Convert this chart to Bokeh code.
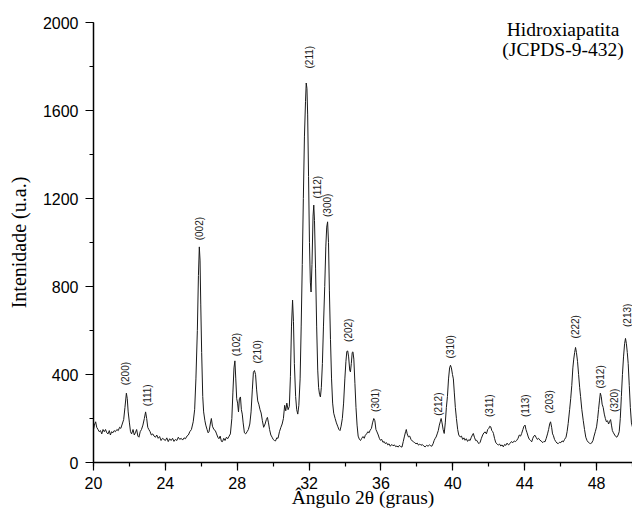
import math
from bokeh.plotting import figure
from bokeh.models import ColumnDataSource, Range1d, FixedTicker, Label, LabelSet
from bokeh.embed import file_html
from bokeh.resources import INLINE
from bokeh.core.properties import value

# --- XRD pattern (2θ in degrees, intensity in a.u.) ---
two_theta = [
    20.00, 20.05, 20.12, 20.18, 20.25, 20.32, 20.39, 20.46, 20.53, 20.60, 20.67, 20.74, 20.81, 20.88, 20.94,
    21.01, 21.08, 21.15, 21.22, 21.30, 21.38, 21.45, 21.52, 21.60, 21.68, 21.75, 21.83, 21.88, 21.93,
    22.00, 22.06, 22.12, 22.20, 22.27, 22.33, 22.40, 22.47, 22.53, 22.60, 22.67, 22.75, 22.83, 22.90, 22.96,
    23.02, 23.08, 23.15, 23.22, 23.30, 23.37, 23.45, 23.52, 23.60, 23.68, 23.76, 23.84, 23.92,
    24.00, 24.08, 24.16, 24.24, 24.32, 24.40, 24.48, 24.56, 24.64, 24.72, 24.80, 24.88, 24.96,
    25.04, 25.12, 25.20, 25.28, 25.36, 25.45, 25.55, 25.63, 25.70, 25.78, 25.84, 25.89, 25.93, 25.97,
    26.02, 26.08, 26.13, 26.20, 26.25, 26.32, 26.38, 26.43, 26.50, 26.56, 26.62, 26.70, 26.78, 26.85, 26.92, 26.98,
    27.05, 27.12, 27.18, 27.25, 27.32, 27.40, 27.47, 27.55, 27.62, 27.70, 27.76, 27.82, 27.87, 27.92, 27.97,
    28.02, 28.07, 28.12, 28.18, 28.23, 28.28, 28.33, 28.40, 28.47, 28.55, 28.62, 28.70, 28.77, 28.84, 28.90, 28.96,
    29.02, 29.08, 29.14, 29.20, 29.27, 29.33, 29.40, 29.47, 29.55, 29.62, 29.68, 29.74, 29.80, 29.87, 29.94,
    30.00, 30.07, 30.13, 30.20, 30.27, 30.35, 30.43, 30.50, 30.57, 30.64, 30.70, 30.76, 30.83, 30.90, 30.96,
    31.02, 31.08, 31.13, 31.18, 31.25, 31.31, 31.37, 31.43, 31.50, 31.56, 31.62, 31.68, 31.74, 31.80, 31.84, 31.88, 31.92, 31.97,
    32.02, 32.07, 32.11, 32.16, 32.22, 32.26, 32.30, 32.36, 32.42, 32.48, 32.53, 32.58, 32.63, 32.68, 32.74, 32.80, 32.87, 32.93, 32.98,
    33.03, 33.08, 33.13, 33.19, 33.25, 33.31, 33.37, 33.45, 33.52, 33.59, 33.66, 33.72, 33.78, 33.85, 33.92, 33.99,
    34.05, 34.10, 34.15, 34.20, 34.26, 34.30, 34.35, 34.40, 34.44, 34.49, 34.55, 34.61, 34.67, 34.73, 34.80, 34.86, 34.93,
    35.00, 35.07, 35.13, 35.20, 35.27, 35.34, 35.40, 35.47, 35.53, 35.60, 35.66, 35.72, 35.78, 35.85, 35.91, 35.97,
    36.04, 36.11, 36.18, 36.24, 36.31, 36.38, 36.45, 36.52, 36.60, 36.67, 36.75, 36.82, 36.89, 36.96,
    37.03, 37.10, 37.17, 37.24, 37.31, 37.37, 37.41, 37.46, 37.53, 37.60, 37.67, 37.74, 37.81, 37.88, 37.95,
    38.02, 38.09, 38.16, 38.23, 38.30, 38.38, 38.46, 38.54, 38.62, 38.70, 38.77, 38.83, 38.90, 38.96,
    39.02, 39.07, 39.13, 39.19, 39.25, 39.30, 39.35, 39.40, 39.46, 39.52, 39.58, 39.64, 39.70, 39.76, 39.82, 39.87, 39.92, 39.98,
    40.03, 40.08, 40.14, 40.20, 40.27, 40.33, 40.41, 40.48, 40.55, 40.62, 40.68, 40.75, 40.82, 40.89, 40.96,
    41.03, 41.09, 41.14, 41.20, 41.27, 41.33, 41.40, 41.46, 41.52, 41.59, 41.66, 41.73, 41.80, 41.87, 41.94,
    42.00, 42.06, 42.11, 42.17, 42.22, 42.26, 42.32, 42.39, 42.46, 42.53, 42.60, 42.67, 42.74, 42.81, 42.88, 42.95,
    43.02, 43.10, 43.18, 43.26, 43.34, 43.42, 43.49, 43.56, 43.63, 43.70, 43.77, 43.83, 43.90, 43.96,
    44.02, 44.07, 44.13, 44.20, 44.26, 44.33, 44.39, 44.45, 44.51, 44.57, 44.63, 44.70, 44.77, 44.85, 44.92,
    45.00, 45.07, 45.13, 45.20, 45.27, 45.33, 45.39, 45.44, 45.50, 45.55, 45.59, 45.66, 45.73, 45.80, 45.87, 45.94,
    46.01, 46.08, 46.15, 46.22, 46.30, 46.36, 46.42, 46.50, 46.56, 46.62, 46.68, 46.73, 46.78, 46.83, 46.88, 46.94,
    47.00, 47.06, 47.11, 47.18, 47.26, 47.33, 47.40, 47.47, 47.54, 47.60, 47.66, 47.72, 47.80, 47.86, 47.93,
    48.00, 48.06, 48.11, 48.16, 48.21, 48.26, 48.31, 48.37, 48.43, 48.49, 48.55, 48.61, 48.67, 48.72, 48.78, 48.83, 48.88, 48.94,
    49.01, 49.07, 49.13, 49.20, 49.26, 49.32, 49.38, 49.44, 49.50, 49.56, 49.61, 49.66, 49.71, 49.76, 49.82, 49.88, 49.94, 50.00,
]
intensity = [
    150, 170, 185, 160, 150, 140, 145, 130, 150, 140, 150, 135, 130, 145, 125,
    140, 135, 145, 140, 150, 145, 160, 155, 175, 195, 250, 315, 290, 230,
    180, 140, 130, 150, 125, 135, 150, 120, 115, 140, 150, 170, 200, 230, 200,
    160, 150, 140, 125, 130, 120, 115, 125, 110, 118, 100, 110, 105,
    100, 112, 95, 108, 100, 110, 96, 105, 100, 115, 105, 110, 102,
    112, 108, 120, 125, 140, 150, 185, 240, 380, 600, 850, 980, 920, 720,
    500, 300, 230, 190, 170, 150, 135, 140, 175, 200, 165, 150, 145, 130, 115, 108,
    120, 96, 95, 110, 100, 115, 108, 120, 130, 200, 320, 430, 462, 380, 290,
    270, 230, 290, 298, 240, 220, 180, 135, 130, 140, 150, 175, 230, 330, 410, 418,
    400, 330, 280, 265, 240, 225, 190, 160, 175, 195, 205, 180, 150, 125, 115,
    105, 100, 98, 112, 110, 140, 160, 175, 200, 260, 235, 270, 240, 255, 390,
    620, 738, 640, 450, 300, 240, 220, 260, 380, 620, 900, 1200, 1480, 1640, 1725, 1700, 1580, 1300,
    1000, 820, 775, 900, 1120, 1170, 1100, 880, 620, 420, 340, 310, 298, 340, 450, 620, 800, 980, 1070,
    1094, 1000, 780, 560, 380, 270, 224, 200, 180, 165, 150, 145, 165, 200, 270, 380,
    460, 505, 507, 480, 420, 412, 450, 500, 503, 470, 360, 250, 170, 120, 105, 100, 110,
    118, 110, 124, 130, 140, 135, 147, 155, 180, 200, 190, 150, 139, 125, 110, 101,
    105, 92, 95, 86, 90, 80, 85, 74, 82, 76, 80, 72, 75, 70,
    78, 72, 70, 95, 120, 140, 150, 130, 116, 120, 105, 98, 94, 90, 85,
    88, 79, 84, 78, 82, 75, 71, 78, 74, 80, 76, 74, 85, 100,
    110, 116, 130, 145, 170, 185, 200, 180, 150, 132, 180, 250, 300, 380, 430, 442, 430, 400,
    380, 320, 250, 200, 150, 125, 116, 120, 105, 112, 101, 108, 96, 104, 100,
    115, 125, 132, 115, 100, 101, 90, 86, 92, 110, 125, 135, 139, 130, 150,
    155, 165, 162, 145, 140, 132, 110, 90, 85, 79, 84, 75, 80, 71, 82, 78,
    88, 80, 86, 95, 90, 98, 95, 101, 110, 125, 120, 132, 150, 165,
    170, 150, 135, 116, 105, 100, 94, 110, 120, 124, 115, 105, 110, 101, 98,
    90, 96, 94, 110, 130, 150, 175, 185, 160, 130, 124, 105, 95, 88, 86, 92,
    90, 98, 94, 105, 115, 140, 177, 240, 290, 350, 430, 470, 500, 523, 500, 460,
    400, 340, 300, 240, 190, 150, 115, 100, 92, 88, 86, 88, 100, 120, 140,
    162, 200, 240, 280, 315, 300, 265, 250, 220, 200, 185, 190, 175, 185, 195, 170, 145, 135,
    125, 118, 115, 125, 140, 200, 300, 400, 480, 540, 564, 540, 500, 450, 350, 250, 180, 160,
]

# --- Miller-index annotations (JCPDS 9-432) ---
peak_text = ["(200)", "(111)", "(002)", "(102)", "(210)", "(211)", "(112)", "(300)", "(202)", "(301)",
             "(212)", "(310)", "(311)", "(113)", "(203)", "(222)", "(312)", "(320)", "(213)"]
peak_x = [21.76, 23.00, 25.90, 27.94, 29.11, 32.02, 32.44, 33.00, 34.17, 35.68,
          39.20, 39.85, 42.02, 44.07, 45.40, 46.83, 48.24, 49.00, 49.70]
peak_y = [351, 256, 1010, 483, 450, 1791, 1200, 1116, 548, 230,
          212, 473, 207, 207, 223, 564, 336, 230, 616]

x_ticks = [20, 24, 28, 32, 36, 40, 44, 48]
x_minor = [20, 22, 24, 26, 28, 30, 32, 34, 36, 38, 40, 42, 44, 46, 48, 50]
y_ticks = [0, 400, 800, 1200, 1600, 2000]
y_minor = [0, 200, 400, 600, 800, 1000, 1200, 1400, 1600, 1800, 2000]

p = figure(width=632, height=513, output_backend="svg", toolbar_location=None,
           x_range=Range1d(20, 50), y_range=Range1d(0, 2000),
           min_border_left=93, min_border_right=0, min_border_top=22, min_border_bottom=51,
           background_fill_color="white", border_fill_color="white")
p.outline_line_color = None
p.xgrid.visible = False
p.ygrid.visible = False

src = ColumnDataSource(dict(x=two_theta, y=intensity))
p.line("x", "y", source=src, line_color="#1a1a1a", line_width=1)

lab_src = ColumnDataSource(dict(x=peak_x, y=peak_y, t=peak_text))
p.add_layout(LabelSet(x="x", y="y", text="t", source=lab_src, angle=math.pi / 2,
                      text_align="left", text_baseline="middle",
                      text_font=value("Liberation Sans"), text_font_size="10px",
                      text_color="#222222"))

for ax in (p.xaxis[0], p.yaxis[0]):
    ax.axis_line_color = "black"
    ax.axis_line_width = 1.5
    ax.major_tick_line_color = "black"
    ax.minor_tick_line_color = "black"
    ax.major_tick_line_width = 1.2
    ax.minor_tick_line_width = 1.2
    ax.major_tick_in = 0
    ax.major_tick_out = 8
    ax.minor_tick_in = 0
    ax.minor_tick_out = 4
    ax.major_label_text_font = "Liberation Sans"
    ax.major_label_text_font_size = "16px"
    ax.major_label_text_color = "black"
    ax.axis_label_text_font = "Liberation Serif"
    ax.axis_label_text_font_style = "normal"
    ax.axis_label_text_color = "black"

p.xaxis[0].ticker = FixedTicker(ticks=x_ticks, minor_ticks=x_minor)
p.yaxis[0].ticker = FixedTicker(ticks=y_ticks, minor_ticks=y_minor)

p.yaxis[0].major_label_standoff = 7
p.yaxis[0].axis_label = "Intenidade (u.a.)"
p.yaxis[0].axis_label_text_font_size = "20px"
p.yaxis[0].axis_label_standoff = 10

p.xaxis[0].major_label_standoff = 6
p.xaxis[0].axis_label = "Ângulo 2θ (graus)"
p.xaxis[0].axis_label_text_font_size = "19.5px"
p.xaxis[0].axis_label_standoff = -5

p.add_layout(Label(x=46.13, y=1967, text="Hidroxiapatita", text_align="center",
                   text_baseline="alphabetic", text_font="Liberation Serif",
                   text_font_size="19.5px", text_color="black"))
p.add_layout(Label(x=46.13, y=1876, text="(JCPDS-9-432)", text_align="center",
                   text_baseline="alphabetic", text_font="Liberation Serif",
                   text_font_size="19.5px", text_color="black"))

open("out.html", "w").write(file_html(p, INLINE))
